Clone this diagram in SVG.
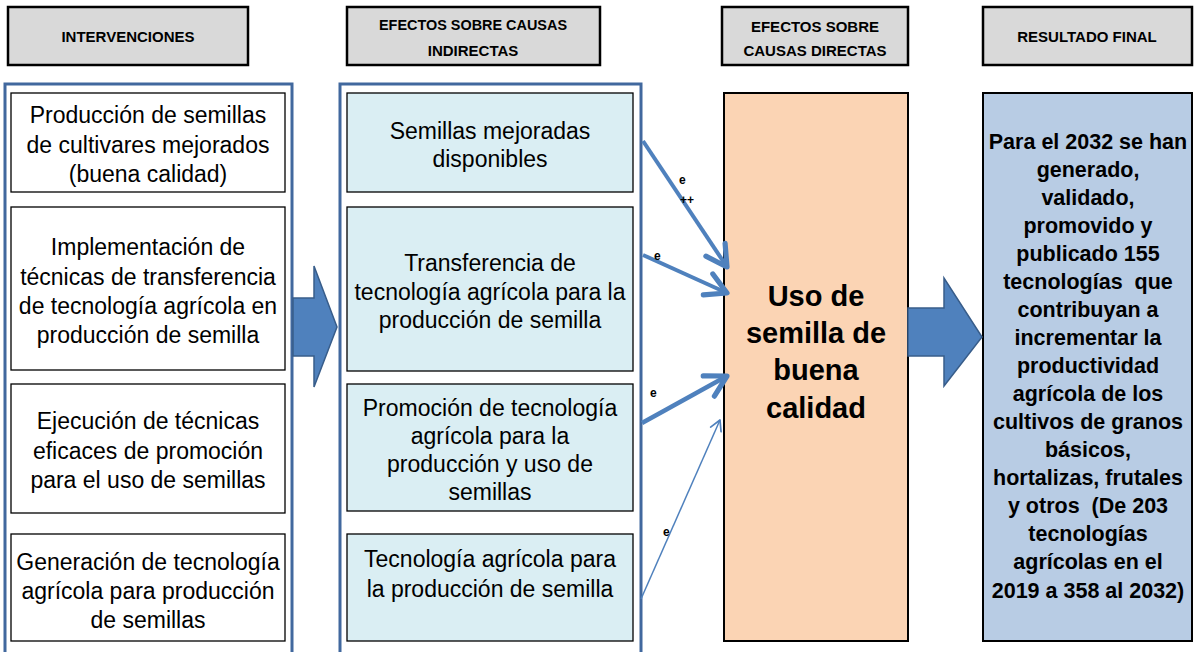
<svg xmlns="http://www.w3.org/2000/svg" width="1199" height="652" viewBox="0 0 1199 652">
<style>
.hdr{fill:#D9D9D9;stroke:#000;stroke-width:2.5}
.ht{font-family:"Liberation Sans",Arial,sans-serif;font-weight:bold;font-size:15px;fill:#000;text-anchor:middle}
.cont{fill:#fff;stroke:#41689E;stroke-width:3}
.wbox{fill:#fff;stroke:#000;stroke-width:1.3}
.bbox{fill:#DAEEF3;stroke:#000;stroke-width:1.3}
.bt{font-family:"Liberation Sans",Arial,sans-serif;font-size:23px;fill:#000;text-anchor:middle}
.big{font-family:"Liberation Sans",Arial,sans-serif;font-weight:bold;font-size:29px;fill:#000;text-anchor:middle}
.res{font-family:"Liberation Sans",Arial,sans-serif;font-weight:bold;font-size:21.5px;fill:#000;text-anchor:middle}
.lbl{font-family:"Liberation Sans",Arial,sans-serif;font-weight:bold;font-size:12px;fill:#000}
.conn{stroke:#4F81BD;fill:none}
.blk{fill:#4F81BD;stroke:#385D8A;stroke-width:1.5}
</style>
<defs>
<marker id="hBig" markerUnits="userSpaceOnUse" markerWidth="30" markerHeight="30" viewBox="-22 -12 26 24" refX="0" refY="0" orient="auto">
<path d="M-18,-10 L0,0 L-18,10" fill="none" stroke="#4F81BD" stroke-width="4.5" stroke-linecap="round" stroke-linejoin="round"/>
</marker>
<marker id="hSmall" markerUnits="userSpaceOnUse" markerWidth="16" markerHeight="16" viewBox="-12 -7 14 14" refX="0" refY="0" orient="auto">
<path d="M-9,-5 L0,0 L-9,5" fill="none" stroke="#4F81BD" stroke-width="1.5" stroke-linecap="round" stroke-linejoin="round"/>
</marker>
</defs>
<rect width="1199" height="652" fill="#fff"/>

<g id="header-intervenciones">
<rect class="hdr" x="8" y="7" width="240" height="58"/>
<text class="ht" x="128" y="42">INTERVENCIONES</text>
</g>
<g id="header-indirectas">
<rect class="hdr" x="347" y="7" width="253" height="58"/>
<text class="ht" x="473" y="30" textLength="188" lengthAdjust="spacingAndGlyphs">EFECTOS SOBRE CAUSAS</text>
<text class="ht" x="473" y="56">INDIRECTAS</text>
</g>
<g id="header-directas">
<rect class="hdr" x="722" y="7" width="186" height="58"/>
<text class="ht" x="815" y="32">EFECTOS SOBRE</text>
<text class="ht" x="815" y="56">CAUSAS DIRECTAS</text>
</g>
<g id="header-resultado">
<rect class="hdr" x="983" y="7" width="209" height="58"/>
<text class="ht" x="1087" y="42">RESULTADO FINAL</text>
</g>

<g id="container-intervenciones">
<rect class="cont" x="5" y="84" width="287" height="575"/>
</g>
<g id="container-indirectas">
<rect class="cont" x="340" y="84" width="301" height="575"/>
</g>

<g id="int-1">
<rect class="wbox" x="11" y="93" width="274" height="99"/>
<text class="bt" x="148" y="123">Producción de semillas</text>
<text class="bt" x="148" y="152.5">de cultivares mejorados</text>
<text class="bt" x="148" y="182">(buena calidad)</text>
</g>
<g id="int-2">
<rect class="wbox" x="11" y="207" width="274" height="163"/>
<text class="bt" x="148" y="255">Implementación de</text>
<text class="bt" x="148" y="285">técnicas de transferencia</text>
<text class="bt" x="148" y="314">de tecnología agrícola en</text>
<text class="bt" x="148" y="343">producción de semilla</text>
</g>
<g id="int-3">
<rect class="wbox" x="11" y="384" width="274" height="129"/>
<text class="bt" x="148" y="429">Ejecución de técnicas</text>
<text class="bt" x="148" y="459">eficaces de promoción</text>
<text class="bt" x="148" y="488">para el uso de semillas</text>
</g>
<g id="int-4">
<rect class="wbox" x="11" y="534" width="274" height="107"/>
<text class="bt" x="148" y="570">Generación de tecnología</text>
<text class="bt" x="148" y="599">agrícola para producción</text>
<text class="bt" x="148" y="628">de semillas</text>
</g>

<g id="ind-1">
<rect class="bbox" x="347" y="93" width="286" height="99"/>
<text class="bt" x="490" y="139">Semillas mejoradas</text>
<text class="bt" x="490" y="167">disponibles</text>
</g>
<g id="ind-2">
<rect class="bbox" x="347" y="207" width="286" height="164"/>
<text class="bt" x="490" y="271">Transferencia de</text>
<text class="bt" x="490" y="300">tecnología agrícola para la</text>
<text class="bt" x="490" y="328">producción de semilla</text>
</g>
<g id="ind-3">
<rect class="bbox" x="347" y="384" width="286" height="127"/>
<text class="bt" x="490" y="416">Promoción de tecnología</text>
<text class="bt" x="490" y="444">agrícola para la</text>
<text class="bt" x="490" y="472">producción y uso de</text>
<text class="bt" x="490" y="500">semillas</text>
</g>
<g id="ind-4">
<rect class="bbox" x="347" y="534" width="286" height="107"/>
<text class="bt" x="490" y="567">Tecnología agrícola para</text>
<text class="bt" x="490" y="597">la producción de semilla</text>
</g>

<g id="directa">
<rect x="724" y="93" width="184" height="548" fill="#FBD4B4" stroke="#000" stroke-width="2"/>
<text class="big" x="816" y="306">Uso de</text>
<text class="big" x="816" y="343">semilla de</text>
<text class="big" x="816" y="380">buena</text>
<text class="big" x="816" y="418">calidad</text>
</g>

<g id="resultado">
<rect x="983" y="93" width="209" height="548" fill="#B8CCE4" stroke="#000" stroke-width="2"/>
<text class="res" x="1088" y="149">Para el 2032 se han</text>
<text class="res" x="1088" y="177">generado,</text>
<text class="res" x="1088" y="205">validado,</text>
<text class="res" x="1088" y="233">promovido y</text>
<text class="res" x="1088" y="261">publicado 155</text>
<text class="res" x="1088" y="289" xml:space="preserve">tecnologías  que</text>
<text class="res" x="1088" y="317">contribuyan a</text>
<text class="res" x="1088" y="345">incrementar la</text>
<text class="res" x="1088" y="373">productividad</text>
<text class="res" x="1088" y="401">agrícola de los</text>
<text class="res" x="1088" y="429">cultivos de granos</text>
<text class="res" x="1088" y="457">básicos,</text>
<text class="res" x="1088" y="485">hortalizas, frutales</text>
<text class="res" x="1088" y="513" xml:space="preserve">y otros  (De 203</text>
<text class="res" x="1088" y="541">tecnologías</text>
<text class="res" x="1088" y="569">agrícolas en el</text>
<text class="res" x="1088" y="598">2019 a 358 al 2032)</text>
</g>

<g id="connectors">
<polygon class="blk" points="293,298 314,298 314,266 337,327 314,387 314,356 293,356"/>
<polygon class="blk" points="908,308 944,308 944,278 982,337 944,386 944,356 908,356"/>
<line class="conn" x1="643" y1="141" x2="727" y2="267" stroke-width="4" marker-end="url(#hBig)"/>
<line class="conn" x1="643" y1="255" x2="727" y2="293" stroke-width="4" marker-end="url(#hBig)"/>
<line class="conn" x1="642" y1="423" x2="727" y2="376" stroke-width="4.5" marker-end="url(#hBig)"/>
<line class="conn" x1="641" y1="599" x2="720" y2="420" stroke-width="1.5" marker-end="url(#hSmall)"/>
<text class="lbl" x="679" y="184">e</text>
<text class="lbl" x="680" y="204">++</text>
<text class="lbl" x="654" y="260">e</text>
<text class="lbl" x="650" y="397">e</text>
<text class="lbl" x="663" y="536">e</text>
</g>
</svg>
